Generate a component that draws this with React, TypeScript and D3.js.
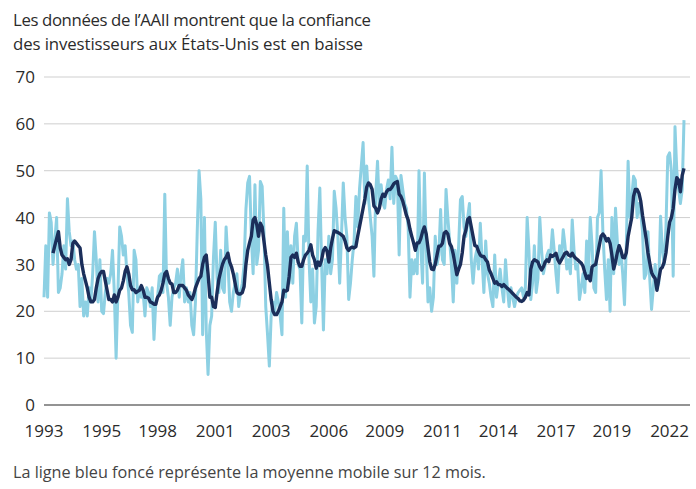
import React from "react";
import * as d3 from "d3";

const titleLines = [
  "Les données de l’AAII montrent que la confiance",
  "des investisseurs aux États-Unis est en baisse",
];
const footnote = "La ligne bleu foncé représente la moyenne mobile sur 12 mois.";

const yTicks = [0, 10, 20, 30, 40, 50, 60, 70];
const xTickLabels = ["1993", "1995", "1998", "2001", "2003", "2006", "2009", "2011", "2014", "2017", "2019", "2022"];
const xTickIndex = [0, 32, 63, 95, 126, 158, 189, 221, 252, 284, 315, 347];

// Monthly bearish sentiment (%)
const monthly: number[] = [
  23, 34, 23, 41, 39, 30, 35, 40, 24, 25, 28, 34,
  29, 44, 37, 34, 35, 31, 29, 30, 21, 27, 19, 22,
  19, 25, 22, 28, 37, 31, 22, 31, 20, 19.5, 24, 27,
  26, 28, 33, 24, 10, 24, 38, 36,
  32, 34, 28, 24, 17, 15.5, 33, 31, 22, 25, 23, 24,
  19, 25, 24, 21, 25, 14, 22, 23, 27.5, 28, 24, 45,
  26, 23, 17, 23, 25, 26, 29, 23, 28, 31, 22, 25,
  22, 24, 17, 15, 22, 37, 50, 44, 15,
  40, 16, 6.5, 17, 19, 31.5, 39, 27, 24, 33, 25, 24,
  38, 31, 22, 20, 24, 26, 28, 21, 24, 26, 30, 41.7,
  47.4, 48.8, 36, 28, 47, 30, 33, 47.7, 46.7, 37, 21, 15,
  8.3, 19, 22, 20, 24, 22, 19, 15, 42,
  23, 37, 26, 34, 26, 36, 38.8, 30, 29, 17.5, 36, 35,
  51, 31, 22, 29, 17.5, 21, 37, 46.3, 30, 16, 31, 28,
  36, 28, 31, 45.6, 42, 36, 26, 36, 47.4, 40, 36, 22.5,
  26, 31, 35, 44.5, 38, 46, 51, 56, 43,
  51, 44, 40, 36, 27.5, 45, 52, 42, 47, 43, 42, 46,
  48, 44, 55, 43, 48.8, 48, 32, 49, 46, 43, 42, 38,
  23, 31, 28, 31, 28, 50, 34, 26, 49.5, 34, 22, 25,
  20, 23, 36, 30, 32, 41.7, 31, 30, 46,
  40, 35, 30, 22, 33, 26, 34, 43.8, 44.5, 38, 36, 40,
  43, 31, 26, 31, 33, 29, 38.8, 31, 24, 35, 28, 26,
  23, 21, 32, 23, 26, 29, 25, 22, 31, 25, 21, 25,
  23, 21, 23, 24, 24.5, 25, 23, 25,
  40, 33, 22.5, 26, 34, 24, 27, 40, 33, 28, 30, 32,
  33, 32, 37.4, 33, 28, 24, 34, 31, 37.4, 34, 29, 31,
  28, 39.5, 33, 29, 30, 22.5, 25, 28, 24, 35, 28, 40,
  34, 25, 24, 40, 41, 50, 37, 29, 22.5,
  31, 20, 40, 28, 42, 35, 30, 33, 28, 21.4, 34, 52,
  40, 44, 48.8, 48, 40, 43, 41, 37, 27, 28, 37, 27,
  20.4, 25, 30, 25, 26, 40.3, 33, 30, 38, 53, 53.8, 50,
  27.5, 59.4, 50, 46, 43, 46, 60.8,
];

// 12-month moving average as drawn
const movingAvg: (number | null)[] = [
  null, null, null, null, null, 32.4, 34, 35.5, 37, 33.5, 32, 31.5,
  31, 31.2, 30, 31, 34.5, 35, 34.5, 34, 33.5, 30, 28, 26.5,
  25, 23, 22, 22, 22.5, 25, 27, 28, 28.5, 28.5, 26.5, 24.5,
  22.5, 22.5, 22, 23.5, 22, 23, 24.5, 25,
  26.5, 28.5, 29.5, 28, 25.5, 24.6, 24.6, 24, 24.3, 24.5, 25.5, 24.5,
  23, 23, 22.8, 22, 21.8, 21.5, 21.5, 23, 23.5, 24.5, 26, 28,
  28.5, 27, 26, 25.8, 24, 24, 24.5, 25.5, 25.5, 25.5, 25, 24.5,
  23.5, 23, 22.5, 23.5, 25, 26, 27, 27.5, 30,
  31.5, 32, 28, 23, 23, 21, 20.8, 24, 26.8, 28.5, 30, 31,
  31.5, 32.4, 30.5, 29.5, 28, 26, 24, 23.7, 23.7, 24, 25.3, 30,
  33, 34.6, 36, 39.5, 40, 38.5, 36, 38.8, 38, 35, 32, 29.6,
  26, 22.5, 20, 19.3, 19.3, 20, 21, 22, 24.5,
  24.3, 24.5, 27.5, 31.5, 32, 31.5, 32.4, 30.5, 29.6, 29.6, 31, 32,
  32.4, 33, 34.2, 32, 31, 29.2, 30.5, 29.8, 31, 33, 33.6, 32.8,
  30.5, 33.5, 35.5, 37.2, 37, 36.8, 36.6, 36.3, 36, 35, 33.5, 33,
  33.5, 33.7, 33.5, 33.8, 36, 38, 40, 42, 44,
  46.5, 47.4, 47, 46, 42.5, 42, 41, 42, 44, 45, 44.5, 45.5,
  46, 46, 46.5, 47.2, 47.5, 47.7, 45, 44.5, 43.5, 42, 40.5, 39.5,
  37.5, 36, 34.6, 33, 34.6, 34.6, 35.5, 37, 38, 36.5, 33.5, 30.5,
  29, 28.9, 30, 32, 33.9, 33.9, 34.5, 36.7, 37,
  36.5, 34.5, 33.8, 32.2, 30, 27.8, 29, 30, 32.5, 36, 37.3, 39.6,
  40, 38, 36, 34, 33.9, 32.8, 32, 31.7, 31.7, 31, 30.5, 28.8,
  28, 27, 26, 26.3, 25.7, 25.7, 25.3, 25.7, 25.3, 24.9, 24.6, 24.2,
  23.8, 23.4, 23, 22.7, 22.2, 22.1, 22.4, 23,
  24, 23.5, 29, 30.5, 31, 30.8, 30.5, 29.5, 28.8, 29.5, 30.5, 31,
  30.6, 32, 31.7, 32, 32.4, 31, 30.3, 31, 31.7, 32.4, 32.6, 32,
  31.8, 32.4, 31.7, 31.3, 31, 30.6, 30.3, 29.6, 28.2, 27, 27.5, 26.5,
  29.5, 29.8, 30, 32, 34, 36, 36.5, 36, 35,
  35.5, 34.5, 32, 29, 30.5, 32.5, 34, 33, 31.5, 31.4, 32.5, 36,
  38, 40, 44.5, 46, 46, 45.2, 43.5, 40.5, 38, 35.5, 32.5, 30.3,
  28.3, 27.5, 27, 24.5, 26.8, 29, 29.4, 30.5, 32.5, 36, 39, 40,
  42, 46, 48.5, 48, 45.5, 49, 50.5,
];

const W = 696;
const H = 489;
const FONT = "'Open Sans', Lato, sans-serif";

export default function App() {
  const x = d3.scaleLinear().domain([0, monthly.length - 1]).range([44, 684]);
  const y = d3.scaleLinear().domain([0, 70]).range([405, 77]);

  const lightPath = d3
    .line<number>()
    .x((_, i) => x(i))
    .y((d) => y(d))(monthly) as string;

  const darkPath = d3
    .line<number | null>()
    .defined((d) => d !== null)
    .x((_, i) => x(i))
    .y((d) => y(d as number))(movingAvg) as string;

  const titleWidths = [358, 350];

  return (
    <svg
      width={W}
      height={H}
      style={{ position: "absolute", left: 0, top: 0, background: "#fff" }}
      fontFamily={FONT}
    >
      {titleLines.map((t, i) => (
        <text
          key={i}
          x={13}
          y={26 + i * 24}
          fontSize={16.8}
          fill="#2b2b2b"
          textLength={titleWidths[i]}
          lengthAdjust="spacing"
        >
          {t}
        </text>
      ))}
      {yTicks.map((t) => (
        <g key={t}>
          <line
            x1={44}
            x2={690}
            y1={y(t)}
            y2={y(t)}
            stroke={t === 0 ? "#6f6f6f" : "#cfcfcf"}
            strokeWidth={t === 0 ? 1.5 : 1}
          />
          <text x={35} y={y(t)} dy="0.36em" textAnchor="end" fontSize={17} fill="#2b2b2b">
            {t}
          </text>
        </g>
      ))}
      <path d={lightPath} fill="none" stroke="#8dd0e3" strokeWidth={3} strokeLinejoin="round" />
      <path d={darkPath} fill="none" stroke="#1b2e5a" strokeWidth={3.4} strokeLinejoin="round" />
      {xTickLabels.map((lbl, i) => (
        <text
          key={lbl}
          x={x(xTickIndex[i])}
          y={437}
          textAnchor="middle"
          fontSize={17}
          fill="#2b2b2b"
        >
          {lbl}
        </text>
      ))}
      <text x={13} y={478} fontSize={16.2} fill="#444">
        {footnote}
      </text>
    </svg>
  );
}
